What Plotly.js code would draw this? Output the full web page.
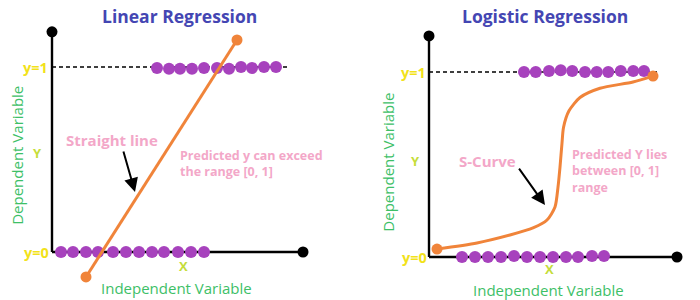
<!DOCTYPE html>
<html>
<head>
<meta charset="utf-8">
<script src="https://cdn.plot.ly/plotly-3.0.1.min.js"></script>
<style>html,body{margin:0;padding:0;background:#fff;}#chart{width:700px;height:300px;}</style>
</head>
<body>
<div id="chart"></div>
<script>
// ---- Linear regression panel data ----
const linTopX = [4.2, 4.68, 5.12, 5.6, 6.08, 6.6, 7.08, 7.56, 8.0, 8.48, 8.96];
const linTopY = [0.995, 0.99, 0.99, 0.99, 0.995, 0.995, 0.99, 1.0, 0.995, 1.0, 1.0];
const linBotX = [0.36, 0.84, 1.36, 1.84, 2.44, 2.96, 3.48, 4.0, 4.48, 5.04, 5.56, 6.08];
const linBotY = [0, 0, 0, 0, 0, 0, 0, 0, 0, 0, 0, 0];
const linFitX = [1.36, 7.4];
const linFitY = [-0.135, 1.146];

// ---- Logistic regression panel data ----
const logTopX = [3.8, 4.27, 4.8, 5.27, 5.73, 6.24, 6.71, 7.17, 7.67, 8.17, 8.6];
const logTopY = [1.0, 1.0, 1.005, 1.01, 1.005, 1.0, 1.0, 1.0, 1.005, 1.005, 1.005];
const logBotX = [1.32, 1.84, 2.36, 2.88, 3.4, 3.92, 4.44, 4.96, 5.48, 5.96, 6.52, 7.0];
const logBotY = [0, 0, 0, 0, 0.005, 0, 0, 0, 0, 0, 0.005, 0.005];
const logCurveX = [0.32, 1.92, 3.24, 4.16, 4.72, 5.04, 5.16, 5.24, 5.32, 5.38, 5.6, 6.04, 6.84, 8.16, 8.96];
const logCurveY = [0.043, 0.076, 0.119, 0.157, 0.2, 0.27, 0.378, 0.486, 0.616, 0.7, 0.79, 0.862, 0.912, 0.946, 0.978];

// axis extents (in panel units)
const linAxisTop = 1.19, linAxisRight = 10.04, linDashEnd = 9.52;
const logAxisTop = 1.195, logAxisRight = 9.92, logDashEnd = 9.12;

const PURPLE = '#a742bd', ORANGE = '#f0843a', YEL = '#f2e21a', YGRN = '#c5dd3a', GRN = '#3dc067', PINK = '#f3a7c8', BLUE = '#4446b3';
const FONT = 'Open Sans, Noto Sans, sans-serif';

function panel(xa, ya, topX, topY, botX, botY, axisTop, axisRight, dashEnd) {
  return [
    {x: [0, dashEnd], y: [1, 1], xaxis: xa, yaxis: ya, mode: 'lines', line: {color: '#000', width: 1.6, dash: '4px,3px'}, hoverinfo: 'skip'},
    {x: [0, 0], y: [0, axisTop], xaxis: xa, yaxis: ya, mode: 'lines', line: {color: '#000', width: 2.4}, hoverinfo: 'skip'},
    {x: [0, axisRight], y: [0, 0], xaxis: xa, yaxis: ya, mode: 'lines', line: {color: '#000', width: 2.4}, hoverinfo: 'skip'},
    {x: [0, axisRight], y: [axisTop, 0], xaxis: xa, yaxis: ya, mode: 'markers', marker: {color: '#000', size: 11}, hoverinfo: 'skip'},
    {x: topX, y: topY, xaxis: xa, yaxis: ya, mode: 'markers', marker: {color: PURPLE, size: 12}},
    {x: botX, y: botY, xaxis: xa, yaxis: ya, mode: 'markers', marker: {color: PURPLE, size: 12}}
  ];
}

const data = [].concat(
  panel('x', 'y', linTopX, linTopY, linBotX, linBotY, linAxisTop, linAxisRight, linDashEnd),
  [{x: linFitX, y: linFitY, xaxis: 'x', yaxis: 'y', mode: 'lines+markers', line: {color: ORANGE, width: 3}, marker: {color: ORANGE, size: 11}}],
  panel('x2', 'y2', logTopX, logTopY, logBotX, logBotY, logAxisTop, logAxisRight, logDashEnd),
  [{x: logCurveX, y: logCurveY, xaxis: 'x2', yaxis: 'y2', mode: 'lines', line: {color: ORANGE, width: 3, shape: 'spline', smoothing: 0.7}},
   {x: [logCurveX[0], logCurveX[logCurveX.length - 1]], y: [logCurveY[0], logCurveY[logCurveY.length - 1]], xaxis: 'x2', yaxis: 'y2', mode: 'markers', marker: {color: ORANGE, size: 11}}]
);

function txt(xr, yr, x, y, text, opts) {
  return Object.assign({xref: xr, yref: yr, x: x, y: y, text: text, showarrow: false,
    xanchor: 'center', yanchor: 'middle',
    font: {family: FONT, size: 12, color: '#000'}}, opts);
}
function arrow(xr, yr, tx, ty, ax, ay) {
  return {xref: xr, yref: yr, axref: xr, ayref: yr, x: tx, y: ty, ax: ax, ay: ay, text: '',
    showarrow: true, arrowhead: 2, arrowsize: 1.4, arrowwidth: 2, arrowcolor: '#000', standoff: 0, startstandoff: 0};
}

const ann = [
  txt('paper', 'paper', 180 / 700, 1 - 16 / 300, '<b>Linear Regression</b>', {font: {family: FONT, size: 17.5, color: BLUE}}),
  txt('paper', 'paper', 545 / 700, 1 - 16 / 300, '<b>Logistic Regression</b>', {font: {family: FONT, size: 17.5, color: BLUE}}),
  // left panel
  txt('x', 'y', -0.1, 1, '<b>y=1</b>', {xanchor: 'right', font: {family: FONT, size: 14.5, color: YEL}}),
  txt('x', 'y', -0.06, 0, '<b>y=0</b>', {xanchor: 'right', font: {family: FONT, size: 14.5, color: YEL}}),
  txt('x', 'y', -0.6, 0.535, '<b>Y</b>', {font: {family: FONT, size: 13, color: YGRN}}),
  txt('x', 'y', 5.24, -0.078, '<b>X</b>', {font: {family: FONT, size: 13, color: YGRN}}),
  txt('x', 'y', 4.96, -0.192, 'Independent Variable', {font: {family: FONT, size: 15, color: GRN}}),
  txt('x', 'y', -1.4, 0.52, 'Dependent Variable', {textangle: -90, font: {family: FONT, size: 15, color: GRN}}),
  txt('x', 'y', 2.38, 0.605, '<b>Straight line</b>', {font: {family: FONT, size: 15, color: PINK}}),
  txt('x', 'y', 5.04, 0.478, '<b>Predicted y can exceed<br>the range [0, 1]</b>', {xanchor: 'left', align: 'left', font: {family: FONT, size: 12.5, color: PINK}}),
  arrow('x', 'y', 3.32, 0.324, 2.84, 0.551),
  // right panel
  txt('x2', 'y2', -0.06, 1, '<b>y=1</b>', {xanchor: 'right', font: {family: FONT, size: 14.5, color: YEL}}),
  txt('x2', 'y2', -0.02, 0, '<b>y=0</b>', {xanchor: 'right', font: {family: FONT, size: 14.5, color: YEL}}),
  txt('x2', 'y2', -0.56, 0.519, '<b>Y</b>', {font: {family: FONT, size: 13, color: YGRN}}),
  txt('x2', 'y2', 4.8, -0.064, '<b>X</b>', {font: {family: FONT, size: 13, color: YGRN}}),
  txt('x2', 'y2', 4.76, -0.18, 'Independent Variable', {font: {family: FONT, size: 15, color: GRN}}),
  txt('x2', 'y2', -1.64, 0.51, 'Dependent Variable', {textangle: -90, font: {family: FONT, size: 15, color: GRN}}),
  txt('x2', 'y2', 2.34, 0.519, '<b>S-Curve</b>', {font: {family: FONT, size: 15, color: PINK}}),
  txt('x2', 'y2', 5.64, 0.465, '<b>Predicted Y lies<br>between [0, 1]<br>range</b>', {xanchor: 'left', align: 'left', font: {family: FONT, size: 12.5, color: PINK}}),
  arrow('x2', 'y2', 4.64, 0.281, 3.56, 0.486)
];

const hidden = {visible: false, showgrid: false, zeroline: false, fixedrange: true};
const layout = {
  width: 700, height: 300, autosize: false,
  margin: {l: 0, r: 0, t: 0, b: 0, pad: 0},
  paper_bgcolor: '#fff', plot_bgcolor: '#fff',
  showlegend: false,
  xaxis: Object.assign({domain: [0, 0.5], range: [-2.08, 11.92]}, hidden),
  yaxis: Object.assign({domain: [0, 1], range: [-48 / 185, 252 / 185]}, hidden),
  xaxis2: Object.assign({domain: [0.5, 1], range: [-3.16, 10.84], anchor: 'y2'}, hidden),
  yaxis2: Object.assign({domain: [0, 1], range: [-43 / 185, 257 / 185], anchor: 'x2'}, hidden),
  annotations: ann,
  font: {family: FONT}
};

Plotly.newPlot('chart', data, layout, {staticPlot: true, displayModeBar: false});
</script>
</body>
</html>
